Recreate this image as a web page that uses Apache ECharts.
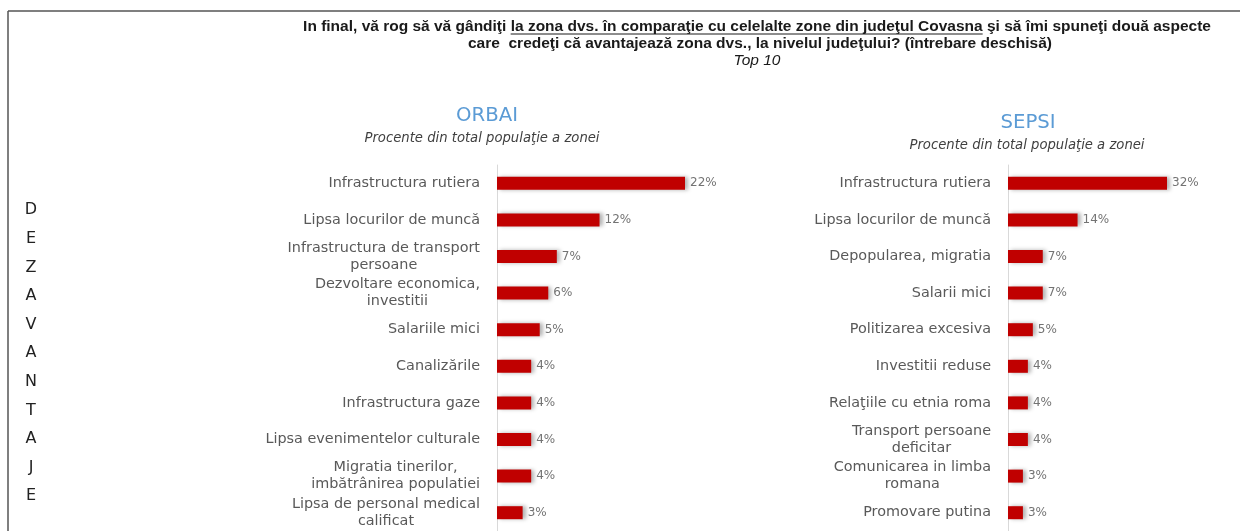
<!DOCTYPE html>
<html>
<head>
<meta charset="utf-8">
<script src="https://cdn.jsdelivr.net/npm/echarts@6/dist/echarts.min.js"></script>
<style>
  html, body { margin: 0; padding: 0; background: #fff; }
  #main { width: 1240px; height: 531px; }
</style>
</head>
<body>
<div id="main"></div>
<script>
const orbaiCategories = [
  'Infrastructura rutiera',
  'Lipsa locurilor de muncă',
  'Infrastructura de transport\npersoane',
  'Dezvoltare economica,\ninvestitii',
  'Salariile mici',
  'Canalizările',
  'Infrastructura gaze',
  'Lipsa evenimentelor culturale',
  'Migratia tinerilor,\nimbătrânirea populatiei',
  'Lipsa de personal medical\ncalificat'
]
const orbaiValues = [22, 12, 7, 6, 5, 4, 4, 4, 4, 3]

const sepsiCategories = [
  'Infrastructura rutiera',
  'Lipsa locurilor de muncă',
  'Depopularea, migratia',
  'Salarii mici',
  'Politizarea excesiva',
  'Investitii reduse',
  'Relaţiile cu etnia roma',
  'Transport persoane\ndeficitar',
  'Comunicarea in limba\nromana',
  'Promovare putina'
]
const sepsiValues = [32, 14, 7, 7, 5, 4, 4, 4, 3, 3]

const titleLine1Pre = 'In final, vă rog să vă gândiţi '
const titleLine1Under = 'la zona dvs. în comparaţie cu celelalte zone din judeţul Covasna'
const titleLine1Post = ' şi să îmi spuneţi două aspecte'
const titleLine2 = 'care  credeţi că avantajează zona dvs., la nivelul judeţului? (întrebare deschisă)'
const subTitle = 'Procente din total populaţie a zonei'
const sideWord = 'DEZAVANTAJE'

// size fonts so texts span about as wide as in the original
const ctx = document.createElement('canvas').getContext('2d')
function fitSize(text, style, family, target) {
  ctx.font = style + ' 12px ' + family
  return Math.round(12 * target / ctx.measureText(text).width * 10) / 10
}
const titleFamily = '"Liberation Sans", Arial, sans-serif'
const labelFont = '"DejaVu Sans", sans-serif'

const titleSize = fitSize(titleLine1Pre + titleLine1Under + titleLine1Post, 'bold', titleFamily, 905)
ctx.font = 'bold ' + titleSize + 'px ' + titleFamily
const fullW = ctx.measureText(titleLine1Pre + titleLine1Under + titleLine1Post).width
const preW = ctx.measureText(titleLine1Pre).width
const underW = ctx.measureText(titleLine1Under).width
const titleX = 757
const underX0 = titleX - fullW / 2 + preW

const catSize = fitSize('Lipsa evenimentelor culturale', '', labelFont, 214)
const subSize = fitSize(subTitle, 'italic', labelFont, 236)
const headSize = fitSize('ORBAI', '', labelFont, 62)

const chart = echarts.init(document.getElementById('main'))

const barColor = '#c00000'

function barSeries(values, idx) {
  return {
    type: 'bar',
    xAxisIndex: idx,
    yAxisIndex: idx,
    data: values,
    barWidth: 13,
    itemStyle: {
      color: barColor,
      shadowColor: 'rgba(0,0,0,0.3)',
      shadowBlur: 4,
      shadowOffsetX: 3,
      shadowOffsetY: 0
    },
    label: {
      show: true,
      position: 'right',
      distance: 5,
      formatter: '{c}%',
      color: '#737373',
      fontFamily: labelFont,
      fontSize: 12
    },
    silent: true
  }
}

function catAxis(cats, idx) {
  return {
    type: 'category',
    gridIndex: idx,
    data: cats,
    inverse: true,
    axisTick: { show: false },
    axisLine: { show: true, lineStyle: { color: '#d9d9d9', width: 1 } },
    axisLabel: {
      margin: 17,
      // lines of a wrapped label are centred on each other
      formatter: v => v.split('\n').map(s => '{c|' + s + '}').join('\n'),
      rich: {
        c: {
          align: 'center',
          color: '#595959',
          fontFamily: labelFont,
          fontSize: catSize,
          lineHeight: 17
        }
      }
    }
  }
}

function valAxis(idx, max) {
  return {
    type: 'value',
    gridIndex: idx,
    min: 0,
    max: max,
    show: false,
    splitLine: { show: false }
  }
}

chart.setOption({
  animation: false,
  grid: [
    { left: 497, top: 165, width: 188, height: 366 },
    { left: 1008, top: 165, width: 159, height: 368 }
  ],
  xAxis: [valAxis(0, 22), valAxis(1, 32)],
  yAxis: [catAxis(orbaiCategories, 0), catAxis(sepsiCategories, 1)],
  series: [barSeries(orbaiValues, 0), barSeries(sepsiValues, 1)],
  graphic: [
    // frame
    { type: 'line', shape: { x1: 8, y1: 11, x2: 1240, y2: 11 }, style: { stroke: '#555', lineWidth: 1.5 } },
    { type: 'line', shape: { x1: 8, y1: 11, x2: 8, y2: 531 }, style: { stroke: '#555', lineWidth: 1.5 } },
    // question
    {
      type: 'text', x: titleX, y: 27,
      style: {
        text: titleLine1Pre + titleLine1Under + titleLine1Post,
        align: 'center', verticalAlign: 'middle',
        font: 'bold ' + titleSize + 'px ' + titleFamily, fill: '#1a1a1a'
      }
    },
    {
      type: 'line',
      shape: { x1: underX0, y1: 34, x2: underX0 + underW, y2: 34 },
      style: { stroke: '#1a1a1a', lineWidth: 1 }
    },
    {
      type: 'text', x: 760, y: 44,
      style: {
        text: titleLine2,
        align: 'center', verticalAlign: 'middle',
        font: 'bold ' + titleSize + 'px ' + titleFamily, fill: '#1a1a1a'
      }
    },
    {
      type: 'text', x: 757, y: 61,
      style: {
        text: 'Top 10', align: 'center', verticalAlign: 'middle',
        font: 'italic ' + titleSize + 'px ' + titleFamily, fill: '#1a1a1a'
      }
    },
    // panel titles
    {
      type: 'text', x: 487, y: 116,
      style: { text: 'ORBAI', align: 'center', verticalAlign: 'middle', font: headSize + 'px ' + labelFont, fill: '#5b9bd5' }
    },
    {
      type: 'text', x: 482, y: 139,
      style: { text: subTitle, align: 'center', verticalAlign: 'middle', font: 'italic ' + subSize + 'px ' + labelFont, fill: '#404040' }
    },
    {
      type: 'text', x: 1028, y: 123,
      style: { text: 'SEPSI', align: 'center', verticalAlign: 'middle', font: headSize + 'px ' + labelFont, fill: '#5b9bd5' }
    },
    {
      type: 'text', x: 1027, y: 146,
      style: { text: subTitle, align: 'center', verticalAlign: 'middle', font: 'italic ' + subSize + 'px ' + labelFont, fill: '#404040' }
    },
    // side word
    {
      type: 'text', x: 31, y: 196,
      style: {
        text: sideWord.split('').join('\n'),
        align: 'center', verticalAlign: 'top',
        font: '16px "DejaVu Sans", sans-serif', lineHeight: 28.6, fill: '#222'
      }
    }
  ]
})
</script>
</body>
</html>
